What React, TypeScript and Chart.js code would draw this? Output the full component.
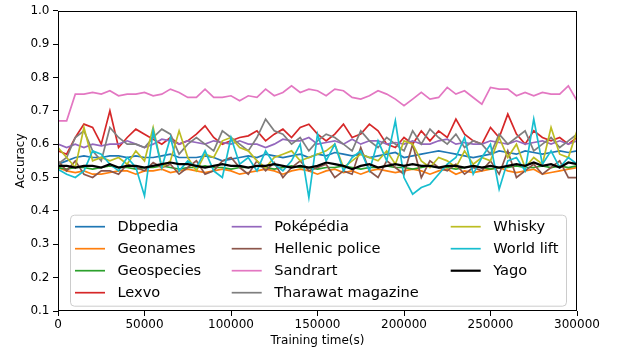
import React, { useEffect, useRef } from "react";
import { Chart, registerables } from "chart.js";
Chart.register(...registerables);

const times = [
  0, 5000, 10000, 15000, 20000, 25000, 30000, 35000, 40000, 45000,
  50000, 55000, 60000, 65000, 70000, 75000, 80000, 85000, 90000, 95000,
  100000, 105000, 110000, 115000, 120000, 125000, 130000, 135000, 140000, 145000,
  150000, 155000, 160000, 165000, 170000, 175000, 180000, 185000, 190000, 195000,
  200000, 205000, 210000, 215000, 220000, 225000, 230000, 235000, 240000, 245000,
  250000, 255000, 260000, 265000, 270000, 275000, 280000, 285000, 290000, 295000,
  300000,
];

const seriesNames = [
  "Dbpedia", "Geonames", "Geospecies", "Lexvo", "Poképédia", "Hellenic police",
  "Sandrart", "Tharawat magazine", "Whisky", "World lift", "Yago",
];

const seriesColors = [
  "#1f77b4", "#ff7f0e", "#2ca02c", "#d62728", "#9467bd", "#8c564b",
  "#e377c2", "#7f7f7f", "#bcbd22", "#17becf", "#000000",
];

const dbpedia = [0.54,0.55,0.56,0.565,0.56,0.56,0.565,0.565,0.56,0.565,0.56,0.56,0.565,0.57,0.56,0.56,0.56,0.565,0.56,0.55,0.555,0.56,0.565,0.56,0.57,0.565,0.56,0.565,0.57,0.56,0.57,0.565,0.575,0.57,0.565,0.57,0.56,0.565,0.57,0.575,0.56,0.565,0.57,0.575,0.58,0.575,0.57,0.565,0.56,0.565,0.57,0.58,0.575,0.57,0.58,0.575,0.57,0.575,0.58,0.575,0.58];
const geonames = [0.53,0.52,0.515,0.52,0.51,0.51,0.515,0.52,0.52,0.51,0.52,0.52,0.525,0.515,0.52,0.525,0.52,0.515,0.52,0.525,0.52,0.51,0.515,0.52,0.525,0.52,0.51,0.52,0.525,0.52,0.51,0.52,0.525,0.515,0.52,0.51,0.52,0.525,0.52,0.515,0.52,0.525,0.52,0.51,0.52,0.525,0.51,0.52,0.515,0.52,0.525,0.53,0.52,0.515,0.52,0.525,0.51,0.515,0.52,0.525,0.53];
const geospecies = [0.53,0.525,0.53,0.53,0.525,0.53,0.535,0.53,0.53,0.525,0.53,0.53,0.535,0.53,0.525,0.53,0.53,0.535,0.53,0.53,0.525,0.53,0.53,0.535,0.53,0.525,0.53,0.535,0.53,0.53,0.525,0.53,0.53,0.535,0.53,0.525,0.53,0.53,0.535,0.53,0.53,0.525,0.53,0.535,0.53,0.53,0.525,0.53,0.535,0.53,0.525,0.53,0.53,0.535,0.53,0.53,0.535,0.53,0.535,0.53,0.535];
const lexvo = [0.58,0.57,0.62,0.66,0.65,0.60,0.70,0.59,0.62,0.645,0.63,0.615,0.60,0.62,0.60,0.61,0.63,0.655,0.62,0.60,0.61,0.62,0.625,0.64,0.61,0.63,0.645,0.62,0.65,0.66,0.63,0.61,0.63,0.66,0.62,0.63,0.66,0.64,0.60,0.59,0.62,0.60,0.64,0.61,0.64,0.62,0.675,0.63,0.61,0.60,0.65,0.62,0.69,0.63,0.60,0.64,0.62,0.61,0.62,0.60,0.62];
const pokepedia = [0.60,0.59,0.60,0.59,0.60,0.595,0.60,0.60,0.61,0.60,0.59,0.60,0.615,0.61,0.60,0.61,0.605,0.60,0.61,0.605,0.60,0.61,0.60,0.60,0.59,0.60,0.615,0.61,0.61,0.62,0.60,0.605,0.61,0.60,0.615,0.60,0.61,0.61,0.60,0.605,0.60,0.61,0.60,0.60,0.61,0.615,0.60,0.605,0.60,0.60,0.61,0.605,0.60,0.61,0.60,0.605,0.61,0.60,0.61,0.60,0.61];
const hellenic = [0.55,0.52,0.55,0.51,0.50,0.52,0.52,0.51,0.54,0.53,0.52,0.545,0.53,0.54,0.51,0.53,0.55,0.51,0.52,0.55,0.56,0.53,0.51,0.55,0.52,0.545,0.50,0.53,0.55,0.52,0.53,0.54,0.50,0.52,0.51,0.59,0.52,0.50,0.55,0.53,0.51,0.60,0.50,0.55,0.53,0.52,0.54,0.51,0.53,0.52,0.55,0.51,0.58,0.50,0.52,0.54,0.51,0.53,0.55,0.50,0.50];
const sandrart = [0.67,0.67,0.75,0.75,0.755,0.75,0.76,0.745,0.75,0.75,0.755,0.745,0.75,0.765,0.755,0.74,0.74,0.765,0.74,0.74,0.745,0.73,0.745,0.74,0.765,0.745,0.755,0.775,0.755,0.765,0.76,0.745,0.765,0.76,0.74,0.735,0.745,0.76,0.75,0.735,0.715,0.735,0.755,0.735,0.74,0.77,0.75,0.76,0.74,0.72,0.77,0.765,0.765,0.745,0.755,0.745,0.755,0.75,0.75,0.775,0.73];
const tharawat = [0.54,0.56,0.62,0.64,0.58,0.55,0.65,0.62,0.60,0.60,0.59,0.62,0.645,0.63,0.57,0.60,0.62,0.60,0.58,0.64,0.62,0.60,0.58,0.62,0.675,0.64,0.63,0.60,0.62,0.58,0.61,0.63,0.62,0.60,0.58,0.64,0.61,0.59,0.62,0.60,0.58,0.64,0.60,0.645,0.62,0.60,0.63,0.59,0.61,0.60,0.57,0.63,0.60,0.62,0.64,0.58,0.60,0.62,0.59,0.61,0.63];
const whisky = [0.59,0.56,0.53,0.65,0.55,0.56,0.55,0.56,0.54,0.58,0.55,0.65,0.53,0.55,0.64,0.56,0.52,0.57,0.56,0.61,0.62,0.59,0.58,0.55,0.53,0.56,0.57,0.58,0.55,0.56,0.57,0.58,0.60,0.53,0.55,0.57,0.56,0.55,0.58,0.54,0.61,0.60,0.55,0.53,0.56,0.55,0.53,0.58,0.54,0.56,0.55,0.62,0.56,0.60,0.53,0.56,0.54,0.65,0.57,0.56,0.64];
const worldLift = [0.525,0.51,0.50,0.52,0.58,0.57,0.54,0.52,0.56,0.53,0.445,0.64,0.53,0.62,0.52,0.55,0.53,0.58,0.52,0.50,0.62,0.54,0.56,0.52,0.58,0.54,0.52,0.55,0.60,0.44,0.63,0.55,0.60,0.52,0.56,0.58,0.52,0.61,0.55,0.67,0.50,0.45,0.47,0.48,0.51,0.54,0.56,0.62,0.51,0.56,0.60,0.465,0.55,0.56,0.52,0.675,0.54,0.58,0.53,0.56,0.54];
const yago = [0.535,0.535,0.53,0.535,0.535,0.53,0.54,0.53,0.535,0.535,0.53,0.535,0.54,0.545,0.54,0.54,0.535,0.53,0.535,0.54,0.535,0.535,0.53,0.535,0.535,0.54,0.535,0.53,0.535,0.53,0.535,0.545,0.54,0.535,0.525,0.535,0.54,0.53,0.535,0.54,0.535,0.54,0.535,0.535,0.53,0.535,0.535,0.53,0.535,0.53,0.535,0.53,0.535,0.54,0.535,0.545,0.535,0.54,0.53,0.545,0.54];

const seriesValues = [dbpedia, geonames, geospecies, lexvo, pokepedia, hellenic, sandrart, tharawat, whisky, worldLift, yago];

const FONT = "'DejaVu Sans', sans-serif";

const framePlugin = {
  id: "mplFrame",
  afterDatasetsDraw(chart: any) {
    const { ctx, chartArea } = chart;
    ctx.save();
    ctx.strokeStyle = "#000";
    ctx.lineWidth = 1;
    const l = Math.round(chartArea.left) + 0.5;
    const t = Math.round(chartArea.top) + 0.5;
    const r = Math.round(chartArea.right) - 0.5;
    const b = Math.round(chartArea.bottom) - 0.5;
    ctx.strokeRect(l, t, r - l, b - t);
    ctx.restore();
  },
};

const legendPlugin = {
  id: "mplLegend",
  afterDraw(chart: any) {
    const { ctx, chartArea } = chart;
    const x0 = chartArea.left + 12.5;
    const y0 = chartArea.top + 204.5;
    const w = 496;
    const h = 91;
    const rad = 4;
    ctx.save();
    ctx.beginPath();
    ctx.moveTo(x0 + rad, y0);
    ctx.lineTo(x0 + w - rad, y0);
    ctx.quadraticCurveTo(x0 + w, y0, x0 + w, y0 + rad);
    ctx.lineTo(x0 + w, y0 + h - rad);
    ctx.quadraticCurveTo(x0 + w, y0 + h, x0 + w - rad, y0 + h);
    ctx.lineTo(x0 + rad, y0 + h);
    ctx.quadraticCurveTo(x0, y0 + h, x0, y0 + h - rad);
    ctx.lineTo(x0, y0 + rad);
    ctx.quadraticCurveTo(x0, y0, x0 + rad, y0);
    ctx.closePath();
    ctx.fillStyle = "rgba(255,255,255,0.8)";
    ctx.fill();
    ctx.strokeStyle = "#cccccc";
    ctx.lineWidth = 1;
    ctx.stroke();

    const colX = [x0 + 4.5, x0 + 161.2, x0 + 380.2];
    const rowY = [y0 + 11.5, y0 + 33.5, y0 + 55.5, y0 + 77.5];
    ctx.font = `14.6px ${FONT}`;
    ctx.textBaseline = "middle";
    ctx.textAlign = "left";
    chart.data.datasets.forEach((ds: any, i: number) => {
      const col = Math.floor(i / 4);
      const row = i % 4;
      const cx = colX[col];
      const cy = rowY[row];
      ctx.beginPath();
      ctx.strokeStyle = ds.borderColor;
      ctx.lineWidth = ds.borderWidth;
      ctx.moveTo(cx, cy);
      ctx.lineTo(cx + 30, cy);
      ctx.stroke();
      ctx.fillStyle = "#000";
      ctx.fillText(ds.label, cx + 42.5, cy + 0.5);
    });
    ctx.restore();
  },
};

export default function App() {
  const ref = useRef<HTMLCanvasElement>(null);
  useEffect(() => {
    document.body.style.margin = "0";
    if (!ref.current) return;
    const datasets = seriesNames.map((name, i) => ({
      label: name,
      data: times.map((t, j) => ({ x: t, y: seriesValues[i][j] })),
      borderColor: seriesColors[i],
      backgroundColor: seriesColors[i],
      borderWidth: i === 10 ? 2.2 : 1.7,
      pointRadius: 0,
      tension: 0,
      fill: false,
      order: -i,
    }));
    const chart = new Chart(ref.current, {
      type: "line",
      data: { datasets },
      plugins: [framePlugin, legendPlugin],
      options: {
        animation: false,
        responsive: false,
        maintainAspectRatio: false,
        devicePixelRatio: 1,
        layout: { padding: { left: 0, right: 46, top: 8, bottom: 0 } },
        plugins: { legend: { display: false }, tooltip: { enabled: false } },
        scales: {
          x: {
            type: "linear",
            min: 0,
            max: 300000,
            afterFit: (s: any) => { s.height = 40; },
            ticks: {
              stepSize: 50000,
              color: "#000",
              font: { family: FONT, size: 12 },
              padding: 2,
              maxRotation: 0,
              callback: (v: any) => String(v),
            },
            grid: { drawOnChartArea: false, drawTicks: true, tickLength: 5, tickColor: "#000", tickWidth: 1 },
            border: { display: false },
            title: {
              display: true,
              text: "Training time(s)",
              color: "#000",
              font: { family: FONT, size: 12 },
              padding: { top: 0, bottom: 2.5 },
            },
          },
          y: {
            type: "linear",
            min: 0.1,
            max: 1.0,
            afterFit: (s: any) => { s.width = 58; },
            ticks: {
              stepSize: 0.1,
              color: "#000",
              font: { family: FONT, size: 12 },
              padding: 3.5,
              callback: (v: any) => Number(v).toFixed(1),
            },
            grid: { drawOnChartArea: false, drawTicks: true, tickLength: 5, tickColor: "#000", tickWidth: 1 },
            border: { display: false },
            title: {
              display: true,
              text: "Accuracy",
              color: "#000",
              font: { family: FONT, size: 12 },
              padding: { top: 13.8, bottom: 0 },
            },
          },
        },
      },
    } as any);
    return () => chart.destroy();
  }, []);
  return (
    <div style={{ width: 623, height: 351 }}>
      <canvas ref={ref} width={623} height={351} style={{ display: "block" }} />
    </div>
  );
}
